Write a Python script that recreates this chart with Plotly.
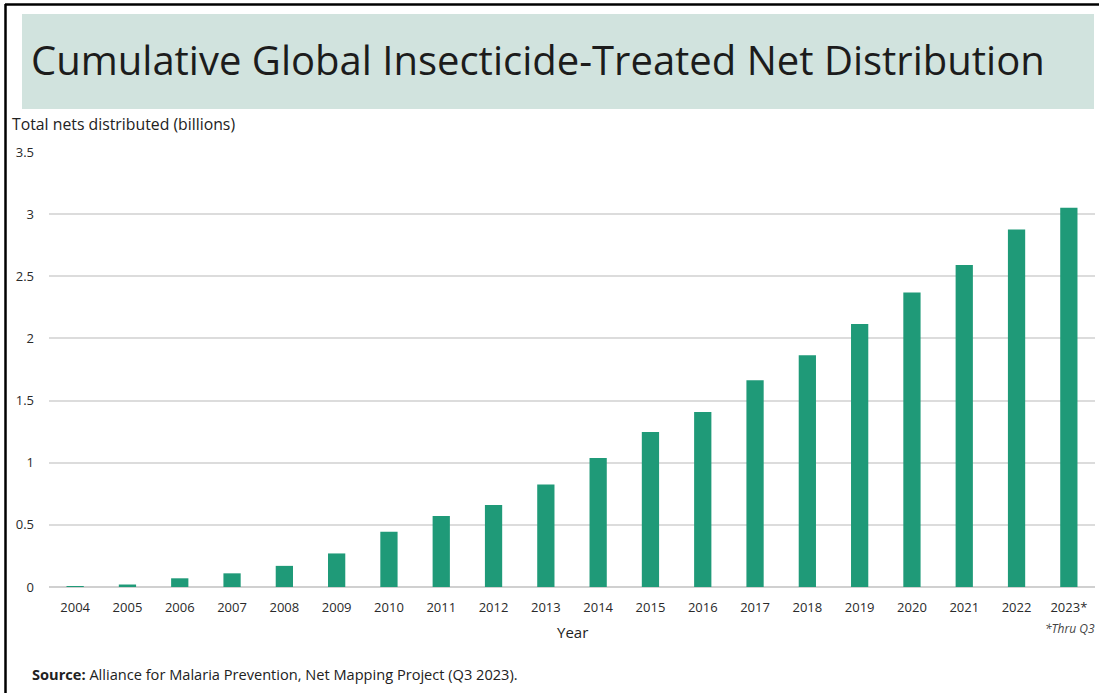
import plotly.graph_objects as go

years = ["2004", "2005", "2006", "2007", "2008", "2009", "2010", "2011", "2012", "2013",
         "2014", "2015", "2016", "2017", "2018", "2019", "2020", "2021", "2022", "2023*"]
nets_billions = [0.005, 0.02, 0.07, 0.11, 0.17, 0.27, 0.445, 0.572, 0.66, 0.825,
                 1.037, 1.247, 1.408, 1.663, 1.864, 2.117, 2.37, 2.59, 2.877, 3.052]
y_ticks = [0, 0.5, 1, 1.5, 2, 2.5, 3, 3.5]
y_tick_labels = ["0", "0.5", "1", "1.5", "2", "2.5", "3", "3.5"]

W, H = 1099, 693
L, R, T, B = 49, 4, 152, 106
PW, PH = W - L - R, H - T - B


def px(x):
    return (x - L) / PW


def py(y):
    return (H - B - y) / PH


FONT = "Open Sans"
BAR = "#1f9a78"

fig = go.Figure(go.Bar(
    x=years, y=nets_billions,
    marker=dict(color=BAR, line=dict(width=0)),
    width=0.33,
))

fig.update_layout(
    width=W, height=H,
    margin=dict(l=L, r=R, t=T, b=B, pad=0),
    paper_bgcolor="white", plot_bgcolor="white",
    showlegend=False,
    font=dict(family=FONT, color="#333333", size=12),
    xaxis=dict(
        type="category", range=[-0.5, 19.5],
        showgrid=False, zeroline=False, showline=False, ticks="",
        tickfont=dict(size=13, color="#2a2a2a"),
        ticklabelstandoff=11,
    ),
    yaxis=dict(
        range=[0, 3.5], tickvals=y_ticks, ticktext=y_tick_labels,
        showgrid=True, gridcolor="#dcdcdc", gridwidth=1.5,
        zeroline=True, zerolinecolor="#d0d0d0", zerolinewidth=1.5,
        showline=False, ticks="",
        tickfont=dict(size=13, color="#2a2a2a"),
        ticklabelstandoff=14,
    ),
    shapes=[
        # title box
        dict(type="rect", xref="paper", yref="paper",
             x0=px(22), x1=px(1094), y0=py(14), y1=py(109),
             fillcolor="#d1e3de", line=dict(width=0), layer="below"),
        # black frame (top and left)
        dict(type="line", xref="paper", yref="paper",
             x0=px(5), x1=px(1099), y0=py(4.5), y1=py(4.5),
             line=dict(color="black", width=2.5)),
        dict(type="line", xref="paper", yref="paper",
             x0=px(5.5), x1=px(5.5), y0=py(4), y1=py(693),
             line=dict(color="black", width=2.5)),
    ],
    annotations=[
        dict(text="Cumulative Global Insecticide-Treated Net Distribution",
             xref="paper", yref="paper", x=px(29), y=py(60),
             xanchor="left", yanchor="middle", showarrow=False,
             font=dict(family=FONT, size=40, color="#1c1c1c")),
        dict(text="Total nets distributed (billions)",
             xref="paper", yref="paper", x=px(10), y=py(124),
             xanchor="left", yanchor="middle", showarrow=False,
             font=dict(family=FONT, size=15.8, color="#222222")),
        dict(text="Year",
             xref="paper", yref="paper", x=0.5, y=py(632),
             xanchor="center", yanchor="middle", showarrow=False,
             font=dict(family=FONT, size=15, color="#222222")),
        dict(text="<i>*Thru Q3</i>",
             xref="paper", yref="paper", x=px(1097), y=py(628),
             xanchor="right", yanchor="middle", showarrow=False,
             font=dict(family=FONT, size=12, color="#444444")),
        dict(text="<b>Source:</b> Alliance for Malaria Prevention, Net Mapping Project (Q3 2023).",
             xref="paper", yref="paper", x=px(30), y=py(674),
             xanchor="left", yanchor="middle", showarrow=False,
             font=dict(family=FONT, size=14.6, color="#222222")),
    ],
)

fig.write_html("out.html")
